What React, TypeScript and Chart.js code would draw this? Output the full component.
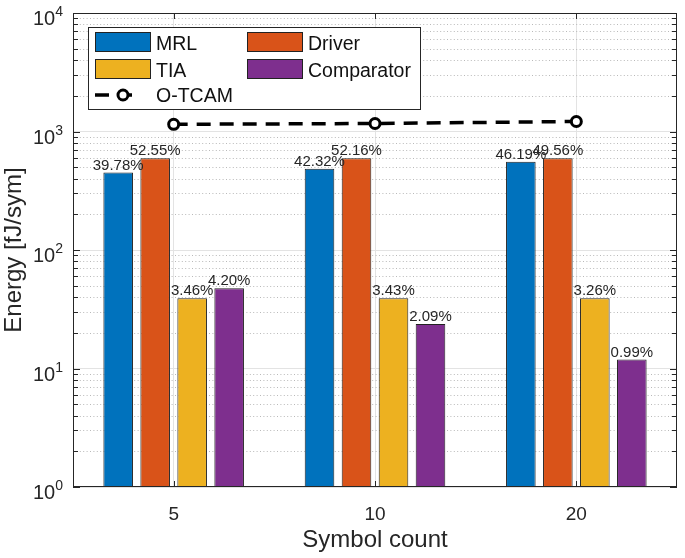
import { useEffect, useRef } from 'react'
import { Chart, registerables } from 'chart.js'

Chart.register(...registerables)

const categories = ['5', '10', '20']
const mrl = [450, 484, 556]
const driver = [595, 595, 596]
const tia = [39.1, 39.1, 39.1]
const comparator = [47.5, 23.8, 11.9]
const otcam = [1150, 1168, 1215]

const mrlPct = ['39.78%', '42.32%', '46.19%']
const driverPct = ['52.55%', '52.16%', '49.56%']
const tiaPct = ['3.46%', '3.43%', '3.26%']
const comparatorPct = ['4.20%', '2.09%', '0.99%']

const yDecades = [1, 10, 100, 1000, 10000]
const yExponents = ['0', '1', '2', '3', '4']

const FONT = '"Liberation Sans", Arial, Helvetica, sans-serif'
const AXIS = '#262626'
const colors = ['#0072BD', '#D95319', '#EDB120', '#7E2F8E']

const isMajor = (v: number) => yDecades.some((d) => Math.abs(d - v) < 1e-9)

function buildYTicks() {
  const out: { value: number }[] = []
  for (let i = 0; i < yDecades.length - 1; i++) {
    for (let m = 1; m < 10; m++) out.push({ value: m * yDecades[i] })
  }
  out.push({ value: yDecades[yDecades.length - 1] })
  return out
}

// dotted minor grid, drawn under the bars
const minorGrid = {
  id: 'minorGrid',
  beforeDatasetsDraw(chart: any) {
    const { ctx, chartArea: a, scales } = chart
    const y = scales.y
    ctx.save()
    ctx.strokeStyle = '#b9b9b9'
    ctx.lineWidth = 1
    ctx.setLineDash([1, 2.4])
    ctx.beginPath()
    y.ticks.forEach((t: any) => {
      if (isMajor(t.value)) return
      const py = Math.round(y.getPixelForValue(t.value)) + 0.5
      ctx.moveTo(a.left, py)
      ctx.lineTo(a.right, py)
    })
    ctx.stroke()
    ctx.restore()
  },
}

const decor = {
  id: 'decor',
  afterDraw(chart: any) {
    const { ctx, chartArea: a, scales } = chart
    const x = scales.x
    const y = scales.y
    ctx.save()

    // axes box
    ctx.strokeStyle = AXIS
    ctx.lineWidth = 1
    ctx.strokeRect(a.left + 0.5, a.top + 0.5, a.right - a.left - 1, a.bottom - a.top - 1)

    // inward ticks
    ctx.beginPath()
    y.ticks.forEach((t: any) => {
      const py = Math.round(y.getPixelForValue(t.value)) + 0.5
      const len = isMajor(t.value) ? 7 : 5
      ctx.moveTo(a.left, py)
      ctx.lineTo(a.left + len, py)
      ctx.moveTo(a.right, py)
      ctx.lineTo(a.right - len, py)
    })
    x.ticks.forEach((_t: any, i: number) => {
      const px = Math.round(x.getPixelForTick(i)) + 0.5
      ctx.moveTo(px, a.bottom)
      ctx.lineTo(px, a.bottom - 6)
      ctx.moveTo(px, a.top)
      ctx.lineTo(px, a.top + 6)
    })
    ctx.stroke()

    // y tick labels 10^n
    ctx.fillStyle = AXIS
    ctx.textAlign = 'right'
    ctx.textBaseline = 'alphabetic'
    yDecades.forEach((d, i) => {
      const py = y.getPixelForValue(d)
      ctx.font = `14px ${FONT}`
      const ew = ctx.measureText(yExponents[i]).width
      ctx.fillText(yExponents[i], a.left - 10, py + 3)
      ctx.font = `20px ${FONT}`
      ctx.fillText('10', a.left - 10 - ew, py + 12)
    })

    // x tick labels
    ctx.textAlign = 'center'
    ctx.font = `19px ${FONT}`
    categories.forEach((c, i) => {
      ctx.fillText(c, x.getPixelForTick(i), a.bottom + 33)
    })

    // percentage labels over bars
    const pcts = [mrlPct, driverPct, tiaPct, comparatorPct]
    ctx.font = `15px ${FONT}`
    pcts.forEach((arr, di) => {
      const meta = chart.getDatasetMeta(di)
      meta.data.forEach((el: any, j: number) => {
        ctx.fillText(arr[j], el.x, el.y - 3)
      })
    })

    // legend
    const lx = a.left + 15
    const ly = a.top + 14
    ctx.fillStyle = '#fff'
    ctx.fillRect(lx, ly, 332, 82)
    ctx.strokeStyle = AXIS
    ctx.strokeRect(lx + 0.5, ly + 0.5, 332, 82)
    const names = chart.data.datasets.map((d: any) => d.label)
    const cols = [lx + 7, lx + 159]
    const rows = [ly + 5, ly + 32]
    ctx.textAlign = 'left'
    ctx.font = `19.5px ${FONT}`
    for (let k = 0; k < 4; k++) {
      const cx = cols[k % 2]
      const ry = rows[Math.floor(k / 2)]
      ctx.fillStyle = colors[k]
      ctx.fillRect(cx, ry, 56, 20)
      ctx.strokeStyle = '#222'
      ctx.strokeRect(cx + 0.5, ry + 0.5, 55, 19)
      ctx.fillStyle = '#111'
      ctx.fillText(names[k], cx + 61, ry + 18)
    }
    const lineY = ly + 68
    ctx.strokeStyle = '#000'
    ctx.lineWidth = 3.5
    ctx.setLineDash([14, 9])
    ctx.beginPath()
    ctx.moveTo(lx + 7, lineY)
    ctx.lineTo(lx + 53, lineY)
    ctx.stroke()
    ctx.setLineDash([])
    ctx.beginPath()
    ctx.arc(lx + 35, lineY, 5, 0, Math.PI * 2)
    ctx.fillStyle = '#fff'
    ctx.fill()
    ctx.lineWidth = 3
    ctx.stroke()
    ctx.fillStyle = '#111'
    ctx.fillText(names[4], lx + 68, lineY + 7)

    ctx.restore()
  },
}

export default function App() {
  const chartRef = useRef<HTMLCanvasElement>(null)
  const chartInstanceRef = useRef<Chart | null>(null)

  useEffect(() => {
    document.body.style.margin = '0'
    if (!chartRef.current) return
    const ctx = chartRef.current.getContext('2d')
    if (!ctx) return

    if (chartInstanceRef.current) {
      chartInstanceRef.current.destroy()
    }

    const barSet = (label: string, data: number[], color: string) => ({
      type: 'bar' as const,
      label,
      data,
      backgroundColor: color,
      borderColor: '#222',
      borderWidth: 1,
      categoryPercentage: 0.735,
      barPercentage: 0.8,
      order: 1,
    })

    chartInstanceRef.current = new Chart(ctx, {
      type: 'bar',
      data: {
        labels: categories,
        datasets: [
          barSet('MRL', mrl, colors[0]),
          barSet('Driver', driver, colors[1]),
          barSet('TIA', tia, colors[2]),
          barSet('Comparator', comparator, colors[3]),
          {
            type: 'line' as const,
            label: 'O-TCAM',
            data: otcam,
            borderColor: '#000',
            borderWidth: 3.5,
            borderDash: [14, 9],
            pointRadius: 5,
            pointBorderWidth: 3,
            pointBackgroundColor: '#fff',
            pointBorderColor: '#000',
            fill: false,
            order: 0,
          },
        ] as any,
      },
      options: {
        animation: false,
        responsive: true,
        maintainAspectRatio: false,
        events: [],
        layout: { padding: { top: 13, right: 1, left: 0, bottom: 0 } },
        plugins: {
          legend: { display: false },
          tooltip: { enabled: false },
        },
        scales: {
          x: {
            ticks: { display: false },
            grid: { offset: false, drawTicks: false, color: '#e3e3e3' },
            border: { display: false },
            title: {
              display: true,
              text: 'Symbol count',
              color: AXIS,
              font: { family: FONT, size: 24 },
              padding: { top: 0, bottom: 3 },
            },
            afterFit: (s: any) => {
              s.height = 71
            },
          },
          y: {
            type: 'logarithmic',
            min: 1,
            max: 10000,
            afterBuildTicks: (s: any) => {
              s.ticks = buildYTicks()
            },
            ticks: { display: false, autoSkip: false },
            grid: {
              drawTicks: false,
              color: (c: any) => (c.tick && isMajor(c.tick.value) ? '#e3e3e3' : 'rgba(0,0,0,0)'),
            },
            border: { display: false },
            title: {
              display: true,
              text: 'Energy [fJ/sym]',
              color: AXIS,
              font: { family: FONT, size: 24 },
              padding: { top: 0, bottom: 0 },
            },
            afterFit: (s: any) => {
              s.width = 73
            },
          },
        },
      },
      plugins: [minorGrid, decor],
    })

    return () => {
      chartInstanceRef.current?.destroy()
      chartInstanceRef.current = null
    }
  }, [])

  return (
    <div style={{ position: 'relative', width: 685, height: 558 }}>
      <canvas ref={chartRef}></canvas>
    </div>
  )
}
